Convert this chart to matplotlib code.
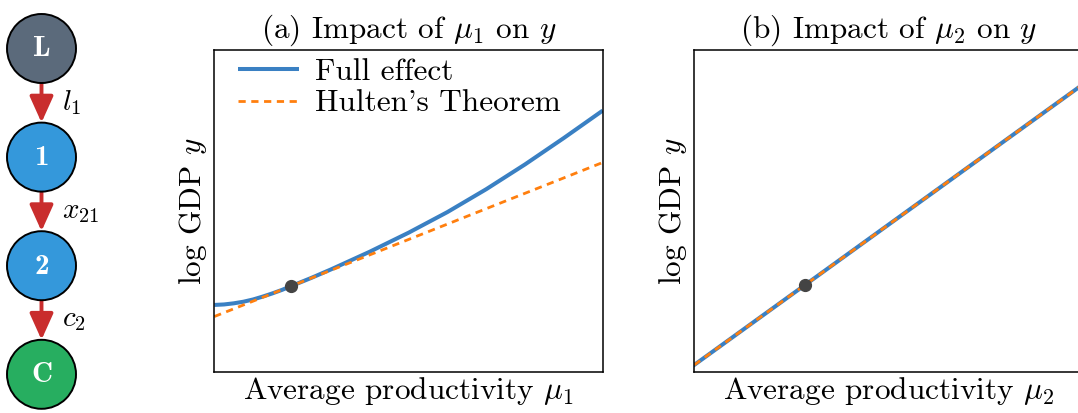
import matplotlib
matplotlib.use("Agg")
import matplotlib.pyplot as plt
from matplotlib.patches import Circle

plt.rcParams['font.family'] = 'serif'
plt.rcParams['font.serif'] = ['cmr10']
plt.rcParams['mathtext.fontset'] = 'cm'
plt.rcParams['axes.unicode_minus'] = False

# ---- data (axis units 0..1) ----
node_labels = ['L', '1', '2', 'C']
node_colors = ['#5b6a7b', '#3498db', '#3498db', '#27ae60']
edge_labels = [r'$l_1$', r'$x_{21}$', r'$c_2$']

mu1 = [0.0, 0.025, 0.05, 0.075, 0.10, 0.125, 0.15, 0.175, 0.197, 0.25, 0.30,
       0.40, 0.50, 0.60, 0.70, 0.80, 0.90, 1.0]
full1 = [0.209, 0.2105, 0.214, 0.219, 0.226, 0.235, 0.245, 0.256, 0.267, 0.293,
         0.319, 0.374, 0.433, 0.497, 0.568, 0.645, 0.727, 0.812]
hulten1_x = [0.0, 1.0]
hulten1_y = [0.173, 0.651]
point1 = (0.197, 0.267)

mu2 = [0.0, 1.0]
full2 = [0.023, 0.893]
hulten2 = [0.023, 0.893]
point2 = (0.286, 0.272)

BLUE = '#3a80c3'
ORANGE = '#ff7f0e'
RED = '#c92d2d'
DOT = '#444444'
FS = 22.5

W, H = 1078, 413
fig = plt.figure(figsize=(W / 100, H / 100), dpi=100)

# ---- network diagram ----
axd = fig.add_axes([0, 0, 130 / W, 1])
axd.set_xlim(0, 130)
axd.set_ylim(H, 0)
axd.axis('off')
cx, y0, dy, r = 41.5, 48.5, 108.6, 34.5
for i, (lab, col) in enumerate(zip(node_labels, node_colors)):
    cy = y0 + i * dy
    axd.add_patch(Circle((cx, cy), r, facecolor=col, edgecolor='black', lw=1.4, zorder=2))
    axd.text(cx, cy + 1, lab, color='white', ha='center', va='center',
             fontsize=21, fontfamily='cmb10', zorder=3)
for i, lab in enumerate(edge_labels):
    ya = y0 + i * dy + r
    yb = y0 + (i + 1) * dy - r
    axd.annotate('', xy=(cx, yb), xytext=(cx, ya),
                 arrowprops=dict(arrowstyle='-|>,head_length=0.8,head_width=0.36',
                                 lw=2.8, color=RED, shrinkA=0, shrinkB=0,
                                 mutation_scale=20), zorder=1)
    axd.text(cx + 21, (ya + yb) / 2, lab, ha='left', va='center', fontsize=21)

# ---- panels ----
bottom = 1 - 372.3 / H
height = 322.3 / H
width = 388.4 / W
ax1 = fig.add_axes([214.3 / W, bottom, width, height])
ax2 = fig.add_axes([694.3 / W, bottom, width, height])

ax1.plot(mu1, full1, color=BLUE, lw=2.9, label='Full effect', solid_capstyle='butt')
ax1.plot(hulten1_x, hulten1_y, color=ORANGE, lw=2.0, dashes=(2.6, 2.0),
         label="Hulten's Theorem")
ax1.plot(*point1, 'o', color=DOT, ms=8.5, zorder=5)
ax1.set_title(r'(a) Impact of $\mu_1$ on $y$', fontsize=FS, pad=9)
ax1.set_xlabel(r'Average productivity $\mu_1$', fontsize=FS, labelpad=2)
ax1.set_ylabel(r'log GDP $y$', fontsize=FS, labelpad=4)
ax1.legend(loc='upper left', frameon=False, fontsize=FS, handlelength=1.95,
           handletextpad=0.5, borderaxespad=0.0, borderpad=0.25, labelspacing=0.12,
           bbox_to_anchor=(0.041, 1.0))

ax2.plot(mu2, full2, color=BLUE, lw=2.9)
ax2.plot(mu2, hulten2, color=ORANGE, lw=2.0, dashes=(2.6, 2.0))
ax2.plot(*point2, 'o', color=DOT, ms=8.5, zorder=5)
ax2.set_title(r'(b) Impact of $\mu_2$ on $y$', fontsize=FS, pad=9)
ax2.set_xlabel(r'Average productivity $\mu_2$', fontsize=FS, labelpad=2)
ax2.set_ylabel(r'log GDP $y$', fontsize=FS, labelpad=4)

for ax in (ax1, ax2):
    ax.set_xlim(0, 1)
    ax.set_ylim(0, 1)
    ax.set_xticks([])
    ax.set_yticks([])
    for s in ax.spines.values():
        s.set_linewidth(1.1)
        s.set_color('black')

fig.savefig('out.png', dpi=100)
